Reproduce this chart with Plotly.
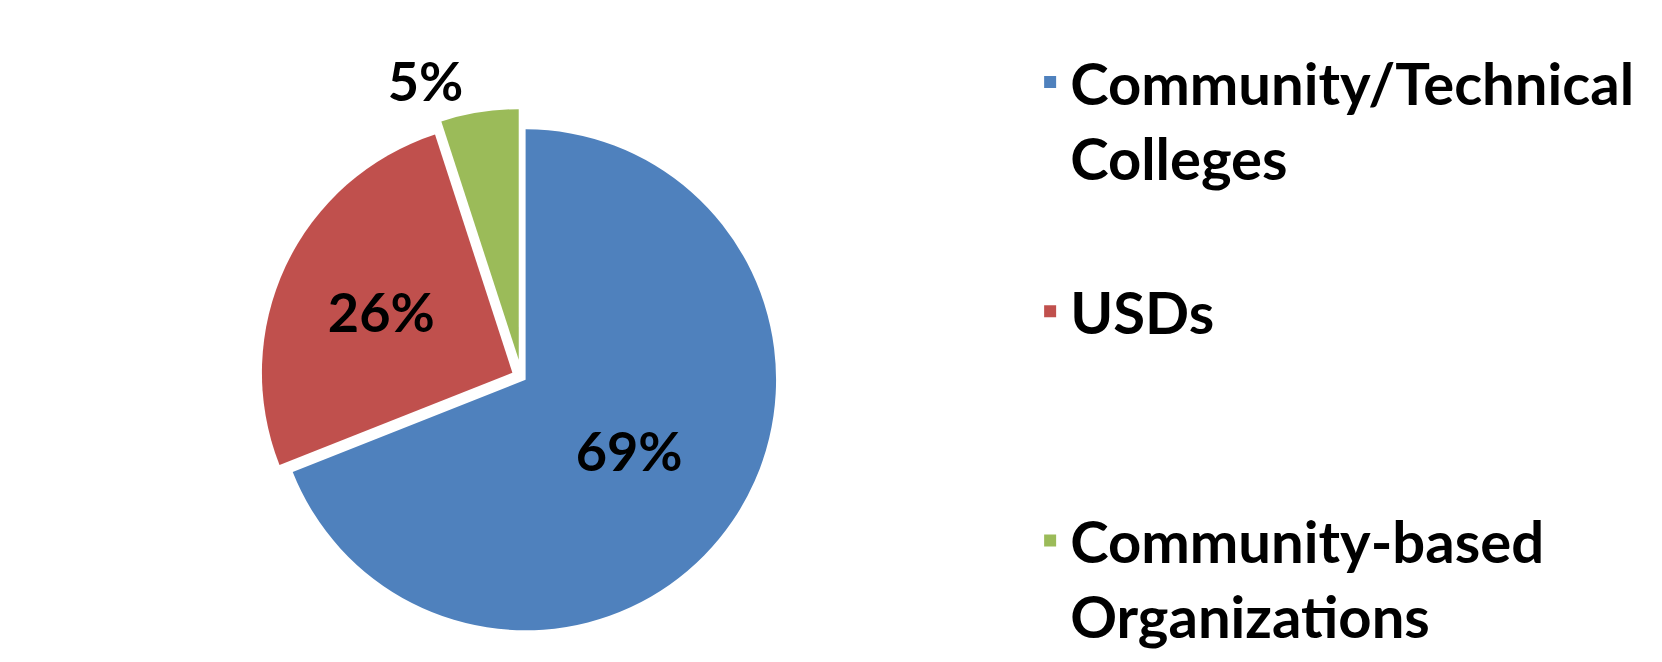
import plotly.graph_objects as go

categories = ["Community/Technical<br>Colleges<br> ", "USDs<br> <br> ", "Community-based<br>Organizations"]
values = [69, 26, 5]
colors = ["#4F81BD", "#C0504D", "#9BBB59"]
text_positions = ["inside", "inside", "outside"]
pulls = [0.02, 0.04, 0.07]

fig = go.Figure(
    go.Pie(
        labels=categories,
        values=values,
        sort=False,
        direction="clockwise",
        rotation=0,
        pull=pulls,
        marker=dict(colors=colors, line=dict(color="white", width=0)),
        textinfo="percent",
        texttemplate="%{percent:.0%}",
        textposition=text_positions,
        textfont=dict(family="Lato", size=54, color="black", weight="bold"),
        insidetextorientation="horizontal",
        domain=dict(x=[0.0, 0.96], y=[0.0, 1.0]),
        showlegend=True,
    )
)

fig.update_layout(
    width=1662,
    height=662,
    margin=dict(l=5, r=5, t=5, b=5),
    paper_bgcolor="white",
    plot_bgcolor="white",
    font=dict(family="Lato", color="black"),
    legend=dict(
        xref="container",
        yref="container",
        x=0.615,
        y=0.955,
        xanchor="left",
        yanchor="top",
        maxheight=700,
        font=dict(family="Lato", size=58, color="black", weight="bold"),
        traceorder="normal",
        valign="top",
    ),
)

fig.write_html("out.html")
